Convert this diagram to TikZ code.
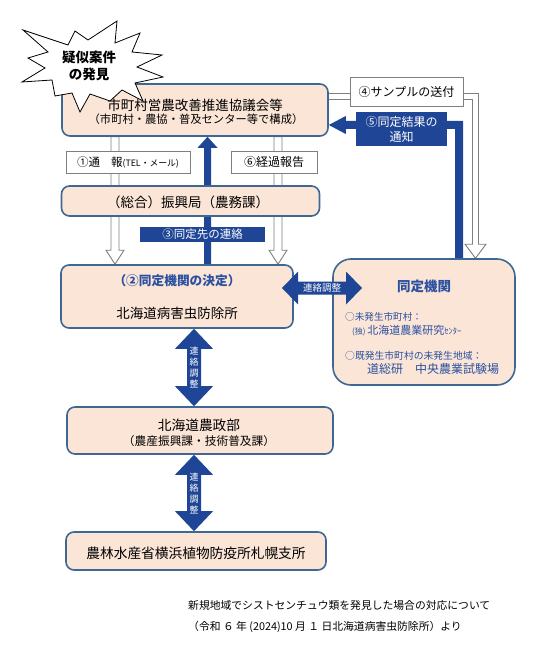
\documentclass[tikz,border=0pt]{standalone}
\usepackage{fontspec}
\setmainfont{Noto Sans CJK JP}
\usetikzlibrary{calc,backgrounds}
\definecolor{boxF}{HTML}{FBE5D6}
\definecolor{boxB}{HTML}{3F6794}
\definecolor{blueF}{HTML}{1F4596}
\definecolor{blueT}{HTML}{2A50A0}
\definecolor{hgray}{HTML}{7F7F7F}
\newcommand\myfs[1]{\fontsize{#1}{#1}\selectfont}
\begin{document}
\begin{tikzpicture}[x=1pt,y=-1pt,
  box/.style={draw=boxB,fill=boxF,line width=1.6pt,rounded corners=8pt,inner sep=0pt},
  lbl/.style={draw=hgray,fill=white,line width=0.8pt,inner sep=0pt},
  blbl/.style={fill=blueF,text=white,inner sep=0pt,align=center},
  hollow/.style={draw=hgray,fill=white,line width=0.9pt},
  barrow/.style={fill=blueF},
  txt/.style={inner sep=0pt},
  dtxt/.style={inner sep=0pt,text=blueT,anchor=west},
  vtxt/.style={inner sep=0pt,text=white,align=center,font=\fontsize{9}{11}\selectfont},
  star/.style={draw=black,fill=white,line width=0.8pt,line join=miter},
]
\useasboundingbox (0,0) rectangle (542,655);

% ---------- main boxes ----------
\node[box,minimum width=266pt,minimum height=52pt] (A) at (195,110) {};
\node[box,minimum width=258pt,minimum height=30pt] (B) at (190.5,201) {};
\node[box,minimum width=232pt,minimum height=63pt] (C) at (177,296.5) {};
\node[box,minimum width=182pt,minimum height=126pt,rounded corners=18pt] (D) at (424,322) {};
\node[box,minimum width=266pt,minimum height=47pt] (E) at (200,430.5) {};
\node[box,minimum width=260pt,minimum height=38pt] (F) at (196,551) {};

% ---------- helper coordinates ----------
\coordinate (x1) at (115,0);
\coordinate (x6) at (278,0);
\coordinate (x3) at (207.5,0);
\coordinate (k4) at (475.5,96.5);
\coordinate (k5) at (459,125);
\coordinate (vx) at (194,0);
\coordinate (hL) at (282,288);
\coordinate (hR) at (362,288);

% ---------- arrows behind the boxes ----------
\begin{scope}[on background layer]
  % (1) hollow arrow left
  \draw[hollow] ($(A.south-|x1)+(-4,0)$) -- ($(C.north-|x1)+(-4,-14)$) -- ++(-5,0)
     -- (C.north-|x1) -- ($(C.north-|x1)+(9,-14)$) -- ++(-5,0) -- ($(A.south-|x1)+(4,0)$) -- cycle;
  % (6) hollow arrow right
  \draw[hollow] ($(A.south-|x6)+(-4,0)$) -- ($(C.north-|x6)+(-4,-14)$) -- ++(-5,0)
     -- (C.north-|x6) -- ($(C.north-|x6)+(9,-14)$) -- ++(-5,0) -- ($(A.south-|x6)+(4,0)$) -- cycle;
  % (3) blue arrow up
  \fill[barrow] ($(C.north-|x3)+(-3.5,0)$) -- ($(A.south-|x3)+(-3.5,11)$) -- ++(-6.5,0)
     -- (A.south-|x3) -- ($(A.south-|x3)+(10,11)$) -- ++(-6.5,0) -- ($(C.north-|x3)+(3.5,0)$) -- cycle;
  % (4) hollow arrow sample
  \draw[hollow] ($(A.east|-k4)+(-2,-3)$) -- ($(k4)+(3,-3)$) -- ($(D.north-|k4)+(3,-14)$) -- ++(7.5,0)
     -- (D.north-|k4) -- ($(D.north-|k4)+(-10.5,-14)$) -- ++(7.5,0) -- ($(k4)+(-3,3)$)
     -- ($(A.east|-k4)+(-2,3)$) -- cycle;
  % (5) blue arrow result
  \fill[barrow] ($(D.north-|k5)+(-4,2)$) -- ($(k5)+(-4,4)$) -- ($(A.east|-k5)+(17,4)$) -- ++(0,5)
     -- (A.east|-k5) -- ($(A.east|-k5)+(17,-9)$) -- ++(0,5) -- ($(k5)+(4,-4)$)
     -- ($(D.north-|k5)+(4,2)$) -- cycle;
\end{scope}

% ---------- box texts ----------
\node[txt] (At1) at (195,105) {\myfs{13.5}市町村営農改善推進協議会等};
\node[txt] (At2) at (196,119.5) {\myfs{11.3}（市町村・農協・普及センター等で構成）};
\node[txt] (Bt) at (188,202) {\myfs{13.5}（総合）振興局（農務課）};
\node[txt,text=blueT] (Ct1) at (177,281) {\myfs{12.7}\bfseries（②同定機関の決定）};
\node[txt] (Ct2) at (177,313) {\myfs{13.5}北海道病害虫防除所};
\node[txt,text=blueT] (Dt) at (424,286) {\myfs{13.5}\bfseries 同定機関};
\node[dtxt] (Dt1) at (345,317) {\myfs{9.6}○未発生市町村：};
\node[dtxt] (Dt2) at (352,331) {{\myfs{8}(独)}\,{\myfs{11}北海道農業研究}{\myfs{8.5}ｾﾝﾀｰ}};
\node[dtxt] (Dt3) at (345,356) {\myfs{9.8}○既発生市町村の未発生地域：};
\node[dtxt] (Dt4) at (367,368.5) {\myfs{12}道総研\hspace{12pt}中央農業試験場};
\node[txt] (Et1) at (199,425) {\myfs{13.7}北海道農政部};
\node[txt] (Et2) at (199,441) {\myfs{11.7}（農産振興課・技術普及課）};
\node[txt] (Ft) at (196,553) {\myfs{13.7}農林水産省横浜植物防疫所札幌支所};

% ---------- labels ----------
\node[lbl,minimum width=124pt,minimum height=22pt] (L1) at (128,162)
  {\myfs{11.5}①通\hspace{11pt}報{\myfs{8.8}(TEL・メール)}};
\node[lbl,minimum width=86pt,minimum height=22pt] (L6) at (274,162) {\myfs{12}⑥経過報告};
\node[blbl,minimum width=125pt,minimum height=15pt] (L3) at (202.5,234.5) {\myfs{11.5}③同定先の連絡};
\node[lbl,minimum width=113pt,minimum height=29pt] (L4) at (406.5,91.5) {\myfs{12}④サンプルの送付};
\node[blbl,minimum width=91pt,minimum height=34pt,font=\fontsize{12}{15}\selectfont] (L5) at (401.5,129)
  {⑤同定結果の\\通知};

% ---------- double arrows ----------
\fill[barrow] let \p1=(hL), \p2=(hR) in
  (\x1,\y1) -- (\x1+16,\y1+16.5) -- (\x1+16,\y1+6.5) -- (\x2-16,\y1+6.5) -- (\x2-16,\y1+16.5)
  -- (\x2,\y2) -- (\x2-16,\y1-16.5) -- (\x2-16,\y1-6.5) -- (\x1+16,\y1-6.5) -- (\x1+16,\y1-16.5) -- cycle;
\node[txt,text=white] (H1) at ($(hL)!0.5!(hR)$) {\myfs{9.5}連絡調整};

\fill[barrow] let \p1=(C.south-|vx), \p2=(E.north-|vx) in
  (\x1,\y1) -- (\x1+19,\y1-20) -- (\x1+7,\y1-20) -- (\x1+7,\y2+20) -- (\x1+19,\y2+20)
  -- (\x2,\y2) -- (\x1-19,\y2+20) -- (\x1-7,\y2+20) -- (\x1-7,\y1-20) -- (\x1-19,\y1-20) -- cycle;
\node[vtxt] (V1) at ($(C.south-|vx)!0.5!(E.north-|vx)$) {連\\絡\\調\\整};

\fill[barrow] let \p1=(E.south-|vx), \p2=(F.north-|vx) in
  (\x1,\y1) -- (\x1+19,\y1-20) -- (\x1+7,\y1-20) -- (\x1+7,\y2+20) -- (\x1+19,\y2+20)
  -- (\x2,\y2) -- (\x1-19,\y2+20) -- (\x1-7,\y2+20) -- (\x1-7,\y1-20) -- (\x1-19,\y1-20) -- cycle;
\node[vtxt] (V2) at ($(E.south-|vx)!0.5!(F.north-|vx)$) {連\\絡\\調\\整};

% ---------- starburst ----------
\draw[star] (23,30) -- (68,45) -- (75,31) -- (88,40) -- (117,21) -- (115,43) -- (140,33)
  -- (132,52) -- (162,55) -- (137,67) -- (163,77) -- (135,83) -- (143,101) -- (122,90)
  -- (110,101) -- (90,94) -- (80,112) -- (72,93) -- (55,96) -- (52,80) -- (22,82)
  -- (45,68) -- (28,58) -- (48,52) -- cycle;
\node[txt,align=center,font=\fontsize{13.5}{17.5}\selectfont\bfseries] (S) at (89,66) {疑似案件\\の発見};

% ---------- footer ----------
\node[txt,anchor=west] (N1) at (188,605) {\myfs{10.8}新規地域でシストセンチュウ類を発見した場合の対応について};
\node[txt,anchor=west] (N2) at (188,627) {\myfs{10.8}（令和 ６ 年 (2024)10 月 １ 日北海道病害虫防除所）より};
\end{tikzpicture}
\end{document}
